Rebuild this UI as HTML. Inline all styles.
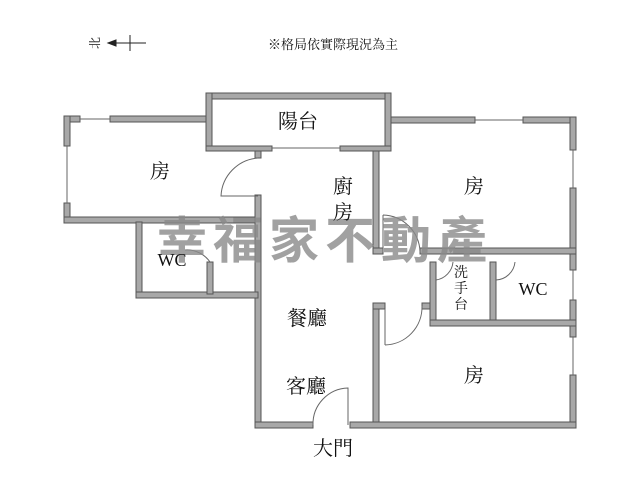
<!DOCTYPE html>
<html><head><meta charset="utf-8"><style>
html,body{margin:0;padding:0;background:#fff;width:640px;height:480px;overflow:hidden}
svg{display:block}
text{font-family:"Liberation Serif","Noto Serif CJK SC","Noto Sans CJK TC",serif;fill:#111}
</style></head><body>
<svg width="640" height="480" viewBox="0 0 640 480" xmlns="http://www.w3.org/2000/svg">
<g fill="#a8a8a8" stroke="#555" stroke-width="1">
<!-- balcony -->
<rect x="206" y="93" width="185" height="6"/>
<rect x="206" y="93" width="6" height="58"/>
<rect x="385" y="93" width="6" height="58"/>
<rect x="206" y="146" width="66" height="5"/>
<rect x="340" y="146" width="51" height="5"/>
<!-- left room -->
<rect x="64" y="116" width="16" height="6"/>
<rect x="110" y="116" width="96" height="6"/>
<rect x="64" y="116" width="6" height="30"/>
<rect x="64" y="203" width="6" height="20"/>
<rect x="64" y="217" width="197" height="6"/>
<rect x="255" y="151" width="6" height="7"/>
<rect x="255" y="195" width="6" height="233"/>
<!-- WC left -->
<rect x="136" y="222" width="6" height="76"/>
<rect x="136" y="292" width="122" height="6"/>
<rect x="207" y="262" width="6" height="32"/>
<!-- right room -->
<rect x="391" y="117" width="84" height="6"/>
<rect x="523" y="117" width="53" height="6"/>
<rect x="570" y="117" width="6" height="33"/>
<rect x="570" y="188" width="6" height="82"/>
<rect x="570" y="300" width="6" height="37"/>
<rect x="570" y="375" width="6" height="53"/>
<rect x="373" y="151" width="6" height="103"/>
<rect x="373" y="248" width="10" height="6"/>
<rect x="420" y="248" width="156" height="6"/>
<!-- wash -->
<rect x="430" y="262" width="6" height="64"/>
<rect x="490" y="262" width="6" height="64"/>
<rect x="430" y="320" width="146" height="6"/>
<!-- bottom right room -->
<rect x="373" y="303" width="6" height="125"/>
<rect x="373" y="303" width="12" height="6"/>
<rect x="422" y="303" width="8" height="6"/>
<!-- bottom -->
<rect x="255" y="422" width="58" height="6"/>
<rect x="350" y="422" width="226" height="6"/>
</g>
<!-- windows -->
<g stroke="#666" stroke-width="1" fill="none">
<line x1="80" y1="119" x2="110" y2="119"/>
<line x1="67" y1="146" x2="67" y2="203"/>
<line x1="272" y1="148" x2="340" y2="148"/>
<line x1="475" y1="120" x2="523" y2="120"/>
<line x1="573" y1="150" x2="573" y2="188"/>
<line x1="573" y1="270" x2="573" y2="300"/>
<line x1="573" y1="337" x2="573" y2="375"/>
<!-- doors -->
<path d="M258 158 A40 40 0 0 0 221 196 L258 196"/>
<path d="M383 215 A38 38 0 0 1 420 252 M383 215 L383 252"/>
<path d="M210 262 A28 28 0 0 0 185 250"/>
<path d="M436 280 A20 20 0 0 0 453 262"/>
<path d="M496 280 A20 20 0 0 0 515 262"/>
<path d="M385 345 A38 38 0 0 0 422 306 M385 309 L385 345"/>
<path d="M313 425 A36 36 0 0 1 348 388 L348 425"/>
</g>
<!-- compass -->
<g stroke="#222" stroke-width="1">
<line x1="112" y1="43" x2="146" y2="43"/>
<line x1="130" y1="35" x2="130" y2="51"/>
<path d="M108 43 L116 40 L116 46 Z" fill="#222"/>
</g>
<text x="96" y="43" font-size="12" transform="rotate(-90 96 43)" text-anchor="middle" dominant-baseline="middle">北</text>
<text x="268" y="49" font-size="13">※格局依實際現況為主</text>
<!-- watermark -->
<text x="325" y="258" font-size="50" text-anchor="middle" letter-spacing="6" style="fill:#8a8a8a;font-family:'Noto Sans CJK TC',sans-serif;font-weight:bold" opacity="0.8">幸福家不動產</text>
<g font-size="20" text-anchor="middle">
<text x="298" y="128">陽台</text>
<text x="160" y="178">房</text>
<text x="343" y="193">廚</text>
<text x="343" y="219">房</text>
<text x="474" y="193">房</text>
<text x="172" y="266" font-size="18">WC</text>
<text x="533" y="295" font-size="18">WC</text>
<text x="307" y="325">餐廳</text>
<text x="306" y="393">客廳</text>
<text x="474" y="382">房</text>
<text x="333" y="455">大門</text>
</g>
<g font-size="14" text-anchor="middle">
<text x="461" y="277">洗</text>
<text x="461" y="293">手</text>
<text x="461" y="309">台</text>
</g>
</svg>
</body></html>
